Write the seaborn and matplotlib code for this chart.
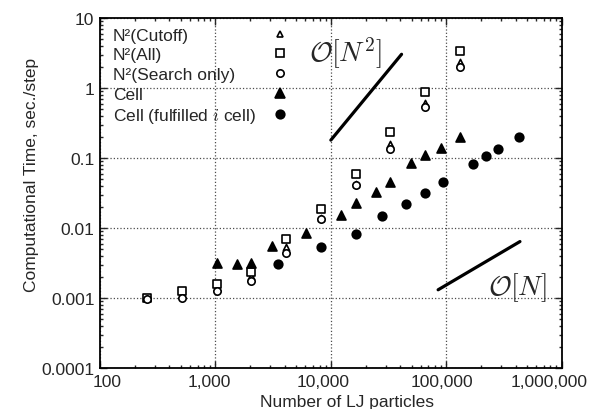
import numpy as np
import seaborn as sns
import matplotlib
matplotlib.use("Agg")
import matplotlib.pyplot as plt
from matplotlib.lines import Line2D
from matplotlib.ticker import LogLocator, NullFormatter, FuncFormatter
from matplotlib.transforms import ScaledTranslation

# --- DATA ---
n2_particles = [256, 512, 1024, 2048, 4096, 8192, 16384, 32768, 65536, 131072]
n2_cutoff = [0.00099, 0.00113, 0.00143, 0.00208, 0.00544, 0.0141, 0.0430, 0.160, 0.607, 2.38]
n2_all = [0.00101, 0.00126, 0.0016, 0.00234, 0.00704, 0.0187, 0.0597, 0.232, 0.877, 3.40]
n2_search = [0.00096, 0.00100, 0.00125, 0.00173, 0.00446, 0.0135, 0.0405, 0.135, 0.527, 2.0]

cell_particles = [1024, 1536, 2048, 3072, 6144, 12288, 16384, 24576, 32768, 49152, 65536, 90000, 131072]
cell_time = [0.00316, 0.0031, 0.0032, 0.00546, 0.00845, 0.0151, 0.0228, 0.0323, 0.046, 0.0838, 0.11, 0.137, 0.2]

fulfilled_particles = [3456, 8192, 16384, 27900, 44400, 65536, 94000, 171000, 223000, 282000, 431000]
fulfilled_time = [0.00306, 0.00544, 0.0083, 0.0148, 0.0221, 0.0316, 0.0449, 0.0816, 0.106, 0.134, 0.197]

# guide lines for the scaling orders
order_n2_x = [10000, 41000]
order_n2_y = [0.18, 3.03]
order_n_x = [85000, 435000]
order_n_y = [0.00131, 0.0064]

labels = ['N²(Cutoff)', 'N²(All)', 'N²(Search only)', 'Cell', 'Cell (fulfilled $i$ cell)']

FS = 12.5

# --- STYLE ---
sns.set_style("ticks")
plt.rcParams['font.family'] = ['Liberation Sans', 'DejaVu Sans']
plt.rcParams['mathtext.fontset'] = 'cm'

fig = plt.figure(figsize=(5.9, 4.1), dpi=100)
ax = fig.add_axes([0.1695, 0.1, 0.7825, 0.8537])

# label, x, y, marker, face colour, size
series = [
    (labels[0], n2_particles, n2_cutoff, '^', 'white', 20),
    (labels[1], n2_particles, n2_all, 's', 'white', 30),
    (labels[2], n2_particles, n2_search, 'o', 'white', 28),
    (labels[3], cell_particles, cell_time, '^', 'black', 42),
    (labels[4], fulfilled_particles, fulfilled_time, 'o', 'black', 38),
]

for label, xs, ys, m, fc, s in series:
    sns.scatterplot(x=xs, y=ys, marker=m, s=s, color=fc, edgecolor='black',
                    linewidth=1.2, ax=ax, legend=False, zorder=3)

sns.lineplot(x=order_n2_x, y=order_n2_y, color='black', linewidth=2.3, ax=ax)
sns.lineplot(x=order_n_x, y=order_n_y, color='black', linewidth=2.3, ax=ax)

ax.text(13400, 3.2, r'$\mathcal{O}[N^2]$', fontsize=20, ha='center', va='center')
ax.text(415000, 0.00145, r'$\mathcal{O}[N]$', fontsize=20, ha='center', va='center')

# --- AXES ---
ax.set_xscale('log')
ax.set_yscale('log')
ax.set_xlim(100, 1e6)
ax.set_ylim(1e-4, 10)

ax.xaxis.set_major_formatter(FuncFormatter(lambda v, p: f'{v:,.0f}'))
ax.yaxis.set_major_formatter(FuncFormatter(lambda v, p: f'{v:g}'))
for axis in (ax.xaxis, ax.yaxis):
    axis.set_minor_locator(LogLocator(base=10, subs=range(2, 10), numticks=20))
    axis.set_minor_formatter(NullFormatter())

ax.tick_params(which='both', direction='in', top=True, right=True, labelsize=FS, width=1.0)
ax.tick_params(which='major', length=5, pad=4)
ax.tick_params(which='minor', length=2.5)
for sp in ax.spines.values():
    sp.set_linewidth(1.3)
    sp.set_color('black')

ax.grid(True, which='major', linestyle=':', color='0.3', linewidth=0.9)

ax.set_xlabel('Number of LJ particles', fontsize=FS)
ax.set_ylabel('Computational Time, sec./step', fontsize=FS)
ax.xaxis.set_label_coords(0.536, -0.074)
ax.yaxis.set_label_coords(-0.133, 0.555)

# --- LEGEND: text left, markers in a right-hand column ---
handles = [Line2D([], [], linestyle='none', marker=m, markersize=np.sqrt(s),
                  markerfacecolor=fc, markeredgecolor='black', markeredgewidth=1.2)
           for _, _, _, m, fc, s in series]
common = dict(loc='upper left', bbox_to_anchor=(0.028, 0.973), frameon=False,
              fontsize=FS, labelspacing=0.26, borderpad=0, borderaxespad=0)
leg_text = ax.legend(handles, labels, handlelength=0, handletextpad=0, **common)
for h in leg_text.legend_handles:
    h.set_visible(False)
ax.add_artist(leg_text)
leg_mark = ax.legend(handles, labels, markerfirst=False, handlelength=1.0,
                     handletextpad=0.9, **common)
for t in leg_mark.get_texts():
    t.set_visible(False)

# nudge the x tick labels the way the original sets them
fig.canvas.draw()
shifts = {'100': 7, '1,000': -6, '10,000': -8, '100,000': -4, '1,000,000': -13}
for lab in ax.get_xticklabels():
    dx = shifts.get(lab.get_text(), 0)
    lab.set_transform(lab.get_transform() + ScaledTranslation(dx / 100, 0, fig.dpi_scale_trans))

plt.savefig('out.png', dpi=100)
